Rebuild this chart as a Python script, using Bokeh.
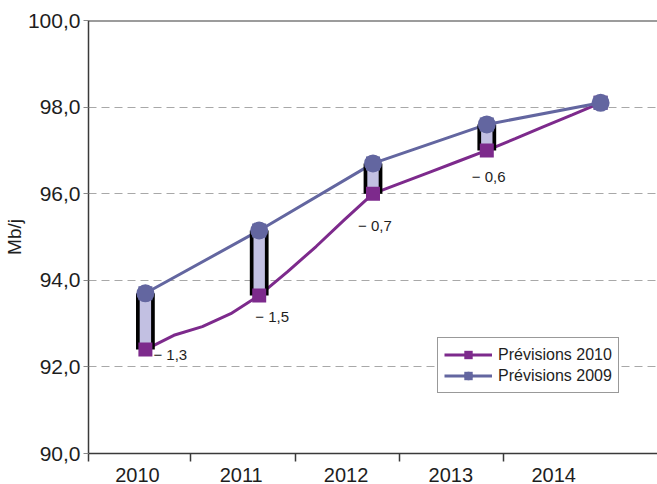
from bokeh.plotting import figure
from bokeh.models import (Range1d, FixedTicker, CustomJSTickFormatter, Span,
                          Legend, LegendItem, ColumnDataSource)
from bokeh.core.properties import value
from bokeh.embed import file_html
from bokeh.resources import INLINE

# ---------------- data ----------------
years = ["2010", "2011", "2012", "2013", "2014"]
prev_2009 = [93.7, 95.15, 96.7, 97.6, 98.1]          # Prévisions 2009 (annual)
prev_2010 = [92.4, 93.65, 96.0, 97.0, 98.1]          # Prévisions 2010 (annual)
# Prévisions 2010, quarterly path (2010 T1 ... 2014 T1)
prev_2010_path = [92.4, 92.73, 92.93, 93.23, 93.65, 94.2, 94.78, 95.4, 96.0,
                  96.25, 96.5, 96.75, 97.0, 97.27, 97.55, 97.82, 98.1]
ecarts = [-1.3, -1.5, -0.7, -0.6]                    # révision 2010 vs 2009
y_ticks = [90, 92, 94, 96, 98, 100]

# ---------------- layout / style ----------------
FONT = "Liberation Sans"
PURPLE = "#7d2a8c"
BLUE = "#6366a0"
LAVENDER = "#c2c0e2"
AXIS = "#3a3a3a"
TXT = "#1e1e1e"

xs = [i + 0.5 for i in range(len(years))]
path_xs = [0.5 + j * 0.25 for j in range(len(prev_2010_path))]
# category axis is drawn slightly narrower than the point spacing (as in the source)
tick_bounds = [0.0, 0.895, 1.816, 2.737, 3.649]
label_pos = [0.43, 1.342, 2.263, 3.184, 4.088]

p = figure(width=657, height=484, x_range=Range1d(0, 5), y_range=Range1d(90, 100),
           output_backend="svg", toolbar_location=None,
           min_border_left=87, min_border_right=0, min_border_top=20, min_border_bottom=31)
p.outline_line_color = None
p.background_fill_color = "white"
p.border_fill_color = "white"

# axes
p.xaxis.ticker = FixedTicker(ticks=label_pos, minor_ticks=tick_bounds)
p.xaxis.formatter = CustomJSTickFormatter(args=dict(pos=label_pos, labels=years), code="""
let best = 0;
for (let i = 0; i < pos.length; i++) {
  if (Math.abs(pos[i] - tick) < Math.abs(pos[best] - tick)) best = i;
}
return labels[best];
""")
p.xaxis.major_tick_line_color = None
p.xaxis.major_tick_out = 0
p.xaxis.major_tick_in = 0
p.xaxis.minor_tick_line_color = AXIS
p.xaxis.minor_tick_line_width = 1.5
p.xaxis.minor_tick_out = 8
p.xaxis.minor_tick_in = 0
p.xaxis.major_label_standoff = 6
p.xaxis.major_label_text_font_size = "20px"

p.yaxis.ticker = FixedTicker(ticks=y_ticks)
p.yaxis.formatter = CustomJSTickFormatter(code="return tick.toFixed(1).replace('.', ',');")
p.yaxis.major_tick_line_color = "#888888"
p.yaxis.major_tick_out = 5
p.yaxis.major_tick_in = 0
p.yaxis.minor_tick_line_color = None
p.yaxis.major_label_standoff = 3
p.yaxis.major_label_text_font_size = "21px"
p.yaxis.axis_label = "Mb/j"
p.yaxis.axis_label_standoff = 0
p.yaxis.axis_label_text_font = FONT
p.yaxis.axis_label_text_font_style = "normal"
p.yaxis.axis_label_text_font_size = "19px"
p.yaxis.axis_label_text_color = TXT

for ax in (p.xaxis, p.yaxis):
    ax.axis_line_color = AXIS
    ax.axis_line_width = 1.5
    ax.major_label_text_font = FONT
    ax.major_label_text_color = TXT

p.xgrid.grid_line_color = None
p.ygrid.ticker = FixedTicker(ticks=[t for t in y_ticks if 90 < t < 100])
p.ygrid.grid_line_color = "#a8a8a8"
p.ygrid.grid_line_dash = "8 5"
p.ygrid.grid_line_width = 1.2

p.add_layout(Span(location=100, dimension="width", line_color=AXIS, line_width=2))

# lines
l2010 = p.line(path_xs, prev_2010_path, line_color=PURPLE, line_width=3)
l2009 = p.line(xs, prev_2009, line_color=BLUE, line_width=3)

# revision bars (black sides + lavender core)
n = len(ecarts)
p.vbar(x=xs[:n], bottom=prev_2010[:n], top=prev_2009[:n], width=0.165,
       fill_color="black", line_color=None)
p.vbar(x=xs[:n], bottom=prev_2010[:n], top=prev_2009[:n], width=0.1,
       fill_color=LAVENDER, line_color=None)

# markers
m2010 = p.scatter(xs, prev_2010, marker="square", size=14, fill_color=PURPLE, line_color=None)
m2009c = p.scatter(xs, prev_2009, marker="circle", size=18, fill_color=BLUE, line_color=None)
m2009s = p.scatter(xs, prev_2009, marker="square", size=14, fill_color=BLUE, line_color=None)

# revision labels
labels = [("− " + f"{abs(e):.1f}").replace(".", ",") for e in ecarts]
src = ColumnDataSource(dict(x=xs[:n], y=prev_2010[:n], t=labels,
                            dx=[8, -4, -15, -15], dy=[5, 21, 32, 26]))
p.text(x="x", y="y", text="t", x_offset="dx", y_offset="dy", source=src,
       text_font=value(FONT), text_font_size="15px", text_color=TXT,
       text_align="left", text_baseline="middle")

legend = Legend(items=[LegendItem(label="Prévisions 2010", renderers=[l2010, m2010]),
                       LegendItem(label="Prévisions 2009", renderers=[l2009, m2009c, m2009s])],
                location=(349, 60), orientation="vertical",
                glyph_width=48, glyph_height=21, spacing=0, padding=6, margin=0,
                label_standoff=6, label_text_font=FONT, label_text_font_size="16px",
                label_text_color=TXT, label_height=16,
                border_line_color="#333333", border_line_width=1,
                background_fill_color="white", background_fill_alpha=1)
p.add_layout(legend)

open("out.html", "w").write(file_html(p, INLINE))
